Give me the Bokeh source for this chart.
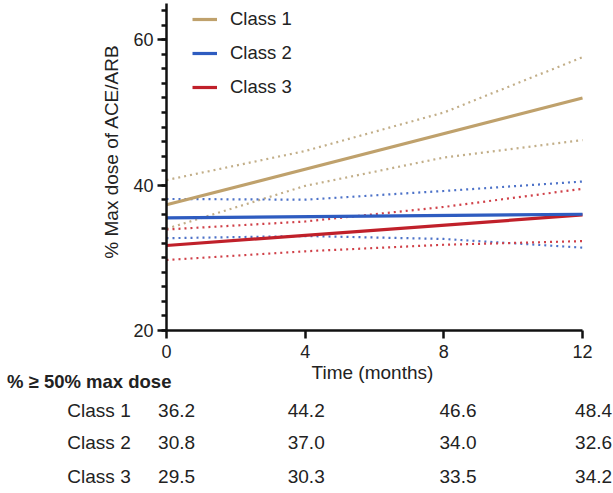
import math
from bokeh.plotting import figure
from bokeh.models import FixedTicker, Legend, LegendItem, Range1d
from bokeh.core.properties import value
from bokeh.embed import file_html
from bokeh.resources import INLINE

# ---- data ----
months = [0, 4, 8, 12]
fit_x = [0, 12]
class1_fit = [37.3, 52.0]
class2_fit = [35.5, 36.0]
class3_fit = [31.7, 35.9]

class1_upper = [40.7, 44.7, 50.0, 57.6]
class1_lower = [34.0, 39.9, 43.8, 46.2]
class2_upper = [38.1, 38.0, 39.2, 40.5]
class2_lower = [32.7, 33.0, 32.6, 31.4]
class3_upper = [33.9, 35.0, 37.0, 39.5]
class3_lower = [29.7, 30.9, 31.8, 32.3]

class_names = ["Class 1", "Class 2", "Class 3"]
x_title = "Time (months)"
y_title = "% Max dose of ACE/ARB"
table_title = "% \u2265 50% max dose"
pct_class1 = ["36.2", "44.2", "46.6", "48.4"]
pct_class2 = ["30.8", "37.0", "34.0", "32.6"]
pct_class3 = ["29.5", "30.3", "33.5", "34.2"]

y_major = [20, 40, 60]
y_minor = list(range(20, 66, 2))

# ---- style / layout ----
FONT = "Liberation Sans"
TXT = "#222222"
colors = ["#BFA16C", "#2E5CC0", "#C0202A"]
dot_colors = ["#C2AE88", "#4D72C8", "#D04048"]

W, H = 613, 493
AX_L, AX_R, AX_T, AX_B = 166, 582, 3, 330   # pixel box of the plotting axes
X0, X1, Y0, Y1 = 0, 12, 20, 65
kx = (AX_R - AX_L) / (X1 - X0)
ky = (AX_B - AX_T) / (Y1 - Y0)
x_range = Range1d(X0 - AX_L / kx, X1 + (W - AX_R) / kx)
y_range = Range1d(Y0 - (H - AX_B) / ky, Y1 + AX_T / ky)

p = figure(width=W, height=H, output_backend="svg", toolbar_location=None,
           x_range=x_range, y_range=y_range, min_border=0)
p.extra_y_ranges = {"px": Range1d(H, 0)}
p.outline_line_color = None
p.grid.visible = False

bands = [(class1_upper, class1_lower), (class2_upper, class2_lower), (class3_upper, class3_lower)]
for (up, lo), c in zip(bands, dot_colors):
    p.line(months, up, line_color=c, line_width=2.2, line_dash="2 4")
    p.line(months, lo, line_color=c, line_width=2.2, line_dash="2 4")

fits = [class1_fit, class2_fit, class3_fit]
draw_order = [2, 0, 1]   # blue fit sits on top of the red one, as in the reference
renderers = [None, None, None]
for i in draw_order:
    renderers[i] = p.line(fit_x, fits[i], line_color=colors[i], line_width=3.2)

legend = Legend(items=[LegendItem(label=n, renderers=[r]) for n, r in zip(class_names, renderers)],
                location=(AX_L + 26, H - 98), padding=5, spacing=12, glyph_width=25,
                glyph_height=20, label_height=20, label_standoff=13, border_line_color=None,
                background_fill_alpha=0, label_text_font=FONT, label_text_font_size="18.5px",
                label_text_color=TXT)
p.add_layout(legend)

for ax in (p.xaxis[0], p.yaxis[0]):
    ax.axis_line_width = 2.5
    ax.axis_line_color = "#111111"
    ax.major_tick_line_width = 2.5
    ax.major_tick_line_color = "#111111"
    ax.minor_tick_line_width = 2.5
    ax.minor_tick_line_color = "#111111"
    ax.major_label_text_font = FONT
    ax.major_label_text_font_size = "18px"
    ax.major_label_text_color = TXT

p.yaxis.fixed_location = X0
p.yaxis.bounds = (Y0, Y1)
p.yaxis.ticker = FixedTicker(ticks=y_major, minor_ticks=y_minor)
p.yaxis.major_tick_in = 0
p.yaxis.major_tick_out = 9
p.yaxis.minor_tick_in = 0
p.yaxis.minor_tick_out = 5
p.yaxis.major_label_standoff = 4

p.xaxis.fixed_location = Y0
p.xaxis.bounds = (X0, X1)
p.xaxis.ticker = FixedTicker(ticks=months, minor_ticks=[])
p.xaxis.major_tick_in = 0
p.xaxis.major_tick_out = 8
p.xaxis.major_label_standoff = 6

# ---- titles and the table (y in pixel rows via the "px" range) ----
YT_X, YT_PX = -1.6, 151
XT_PX = 372
TITLE_X, TITLE_PX = -4.6, 381
ROW_LABEL_X = -2.86
ROW_PX = [410, 442, 476]
COL_OFFSET = [0.29, 0.03, 0.41, 0.32]

common = dict(text_font=value(FONT), text_color=TXT, text_baseline="middle", y_range_name="px")
p.text(x=[YT_X], y=[YT_PX], text=[y_title], angle=math.pi / 2, text_font_size="19px",
       text_align="center", **common)
p.text(x=[(X0 + X1) / 2 - 0.06], y=[XT_PX], text=[x_title], text_font_size="19px",
       text_align="center", **common)
p.text(x=[TITLE_X], y=[TITLE_PX], text=[table_title], text_font_size="18.5px",
       text_font_style="bold", text_align="left", **common)
rows = [pct_class1, pct_class2, pct_class3]
for name, vals, yy in zip(class_names, rows, ROW_PX):
    p.text(x=[ROW_LABEL_X], y=[yy], text=[name], text_font_size="19px", text_align="left",
           **common)
    p.text(x=[m + o for m, o in zip(months, COL_OFFSET)], y=[yy] * len(months), text=vals,
           text_font_size="19px", text_align="center", **common)

open("out.html", "w").write(file_html(p, INLINE))
